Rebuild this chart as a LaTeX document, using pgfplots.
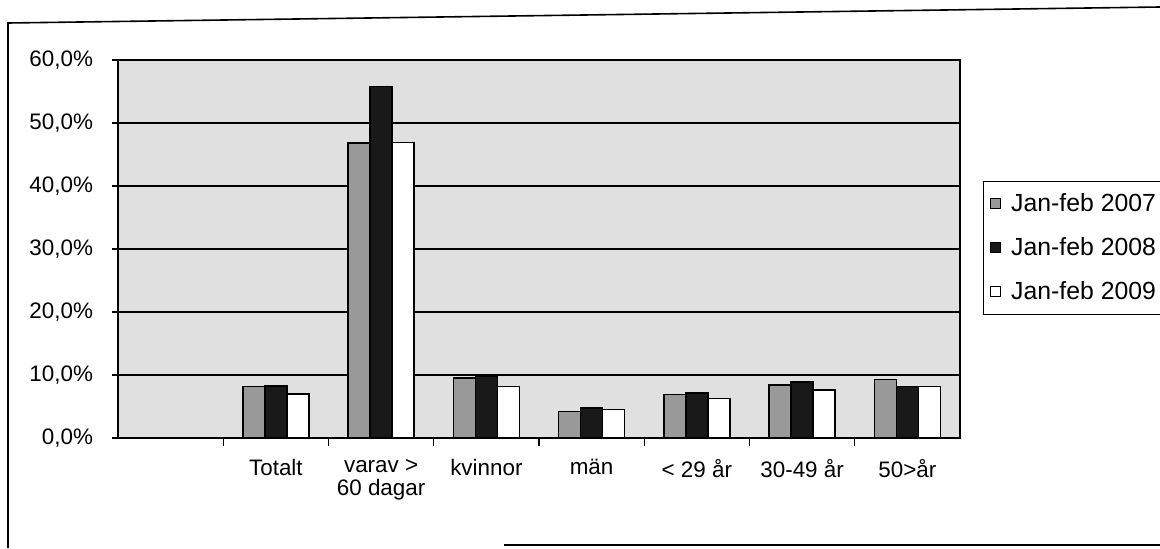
\documentclass[border=0pt]{standalone}
\usepackage{pgfplots}
\pgfplotsset{compat=1.18}
\usepackage{fontspec}
\setmainfont{Liberation Sans}
\begin{document}
\begin{tikzpicture}
\path[use as bounding box] (0pt,0pt) rectangle (580pt,274pt);
% outer frame
\draw[line width=0.8pt] (4pt,0pt) -- (4pt,262.5pt) -- (580pt,270.5pt);
\draw[line width=0.8pt] (252pt,1.5pt) -- (580pt,1.5pt);
\begin{axis}[
  at={(59pt,55pt)}, anchor=south west,
  scale only axis, width=421pt, height=189pt,
  xmin=-0.5, xmax=7.5, ymin=0, ymax=60,
  axis background/.style={fill=black!12},
  ybar=0pt, bar width=11pt,
  axis line style={line width=0.8pt},
  xtick={1,2,3,4,5,6,7},
  xticklabels={Totalt, {varav >\\60 dagar}, kvinnor, män, {< 29 år}, {30-49 år}, {50>år}},
  xticklabel style={align=center, font=\fontsize{11.2}{11.5}\selectfont, yshift=-4pt},
  major x tick style={draw=none},
  minor xtick={0.5,1.5,2.5,3.5,4.5,5.5,6.5},
  minor x tick style={black, line width=0.6pt},
  minor tick length=4pt,
  xtick align=outside,
  ytick={0,10,20,30,40,50,60},
  yticklabels={{0,0\%},{10,0\%},{20,0\%},{30,0\%},{40,0\%},{50,0\%},{60,0\%}},
  yticklabel style={font=\fontsize{11.2}{12}\selectfont, xshift=-6pt},
  ytick align=outside, major tick length=3pt,
  major y tick style={black, line width=0.6pt},
  ymajorgrids, major grid style={black, line width=0.6pt},
  tick pos=left,
  legend style={at={(1.027,0.68)}, anchor=north west, draw=black, line width=0.5pt,
    font=\fontsize{12.4}{14}\selectfont, row sep=7.5pt, inner xsep=3pt, inner ysep=4pt,
    cells={anchor=west}},
  legend image code/.code={\path[draw=none, fill=none] (0pt,0pt) -- (9pt,0pt);
    \draw[#1, line width=0.5pt] (0.5pt,-2.5pt) rectangle (5.5pt,2.5pt);},
]
\addplot[draw=black, line width=0.8pt, fill=black!40] coordinates {(1,8.2) (2,46.8) (3,9.5) (4,4.2) (5,6.9) (6,8.4) (7,9.3)};
\addplot[draw=black, line width=0.8pt, fill=black!90] coordinates {(1,8.3) (2,55.8) (3,9.8) (4,4.8) (5,7.1) (6,8.9) (7,8.2)};
\addplot[draw=black, line width=0.8pt, fill=white] coordinates {(1,7.0) (2,46.9) (3,8.2) (4,4.5) (5,6.3) (6,7.6) (7,8.2)};
\legend{Jan-feb 2007, Jan-feb 2008, Jan-feb 2009}
\end{axis}
\end{tikzpicture}
\end{document}
